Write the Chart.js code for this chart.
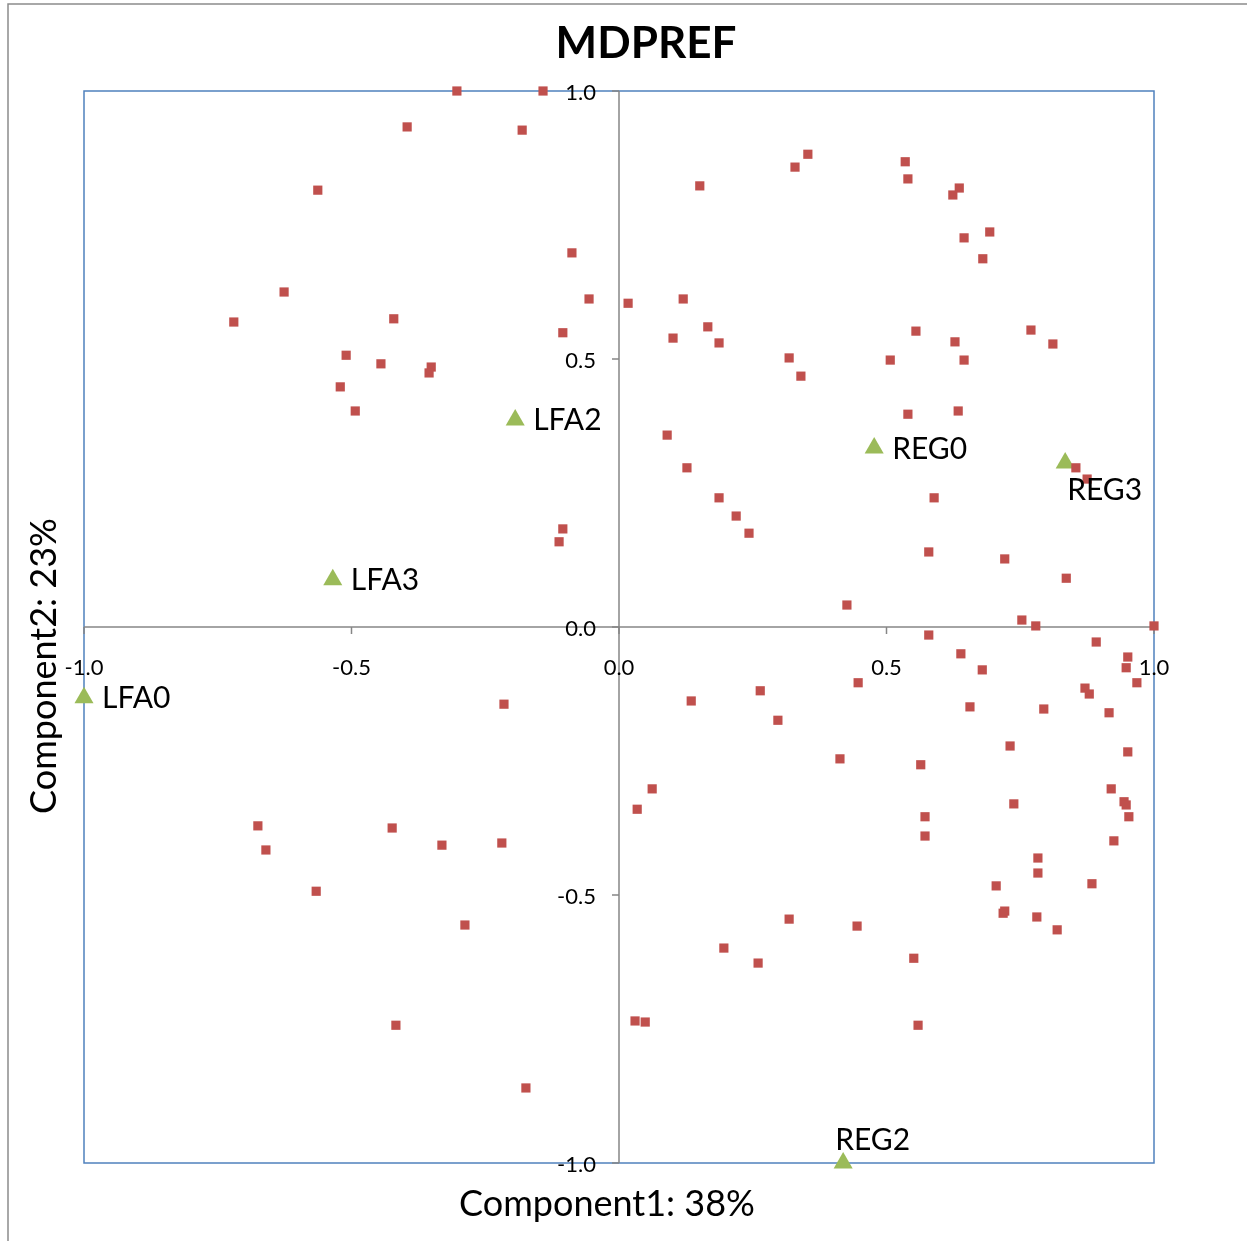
<!DOCTYPE html>
<html>
<head>
<meta charset="utf-8">
<title>MDPREF</title>
<script src="https://cdn.jsdelivr.net/npm/chart.js@4.4.1/dist/chart.umd.min.js"></script>
<style>
  html, body { margin: 0; padding: 0; background: #fff; }
  canvas { display: block; }
</style>
</head>
<body>
<canvas id="mdpref-chart" width="1247" height="1241"></canvas>
<script>
// Attributs (carrés rouges)
const attrX = [
  -0.303, -0.142, -0.396, -0.181, -0.563, -0.088, -0.626, -0.056, -0.720, -0.421,
  -0.105, -0.510, -0.445, -0.351, -0.355, -0.521, -0.493, -0.105, -0.112, 0.017,
  0.120, 0.151, 0.329, 0.353, 0.535, 0.540, 0.636, 0.624, 0.693, 0.645,
  0.680, 0.101, 0.166, 0.187, 0.318, 0.340, 0.555, 0.628, 0.645, 0.507,
  0.770, 0.811, 0.540, 0.634, 0.090, 0.127, 0.187, 0.219, 0.243, 0.589,
  0.579, 0.721, 0.836, 0.426, 0.854, 0.875, 0.753, 0.779, 1.000, -0.675,
  -0.660, -0.566, -0.424, -0.331, -0.219, -0.288, -0.417, -0.174, -0.215, 0.030,
  0.049, 0.062, 0.034, 0.135, 0.264, 0.297, 0.196, 0.260, 0.318, 0.413,
  0.447, 0.445, 0.551, 0.559, 0.564, 0.572, 0.572, 0.579, 0.639, 0.656,
  0.679, 0.705, 0.718, 0.721, 0.731, 0.738, 0.783, 0.783, 0.781, 0.794,
  0.819, 0.871, 0.879, 0.884, 0.892, 0.916, 0.920, 0.925, 0.944, 0.948,
  0.948, 0.951, 0.951, 0.953, 0.968
];
const attrY = [
  1.000, 1.000, 0.933, 0.927, 0.815, 0.698, 0.625, 0.612, 0.569, 0.575,
  0.549, 0.507, 0.491, 0.485, 0.474, 0.448, 0.403, 0.183, 0.159, 0.604,
  0.612, 0.823, 0.858, 0.882, 0.868, 0.836, 0.819, 0.806, 0.737, 0.726,
  0.687, 0.539, 0.560, 0.530, 0.502, 0.468, 0.552, 0.532, 0.498, 0.498,
  0.554, 0.528, 0.397, 0.403, 0.358, 0.297, 0.241, 0.207, 0.175, 0.241,
  0.140, 0.127, 0.091, 0.041, 0.297, 0.276, 0.013, 0.002, 0.002, -0.371,
  -0.416, -0.493, -0.375, -0.407, -0.403, -0.556, -0.743, -0.860, -0.144, -0.735,
  -0.737, -0.302, -0.340, -0.138, -0.119, -0.174, -0.599, -0.627, -0.545, -0.246,
  -0.104, -0.558, -0.618, -0.743, -0.257, -0.354, -0.390, -0.015, -0.050, -0.149,
  -0.080, -0.483, -0.534, -0.530, -0.222, -0.330, -0.431, -0.459, -0.541, -0.153,
  -0.565, -0.114, -0.125, -0.479, -0.028, -0.160, -0.302, -0.399, -0.326, -0.332,
  -0.076, -0.056, -0.233, -0.354, -0.104
];

// Groupes (triangles verts)
const groupNames = ['LFA0', 'LFA2', 'LFA3', 'REG0', 'REG3', 'REG2'];
const groupX = [-1.000, -0.194, -0.535, 0.477, 0.834, 0.419];
const groupY = [-0.132, 0.386, 0.088, 0.334, 0.306, -1.000];

// Graduations et textes
const xTicks = [-1.0, -0.5, 0.0, 0.5, 1.0];
const yTicks = [-1.0, -0.5, 0.0, 0.5, 1.0];
const chartTitle = 'MDPREF';
const xTitle = 'Component1: 38%';
const yTitle = 'Component2: 23%';

// Position des étiquettes (décalage en px par rapport au triangle)
const labelOffsets = {
  LFA0: [18, 1], LFA2: [18, 0], LFA3: [18, 0], REG0: [18, 1],
  REG3: [2, 27], REG2: [-8, -23]
};

const FONT = 'Lato, "Open Sans", sans-serif';

// Axes centrés, bordure, titres et étiquettes dessinés à la main
const quadrantAxes = {
  id: 'quadrantAxes',
  beforeDraw(chart) {
    const ctx = chart.ctx;
    ctx.save();
    ctx.strokeStyle = '#8c8c8c';
    ctx.lineWidth = 1.5;
    ctx.beginPath();
    ctx.moveTo(8, chart.height);
    ctx.lineTo(8, 4);
    ctx.lineTo(chart.width, 4);
    ctx.stroke();
    ctx.restore();
  },
  beforeDatasetsDraw(chart) {
    const { ctx, chartArea: a, scales: { x, y } } = chart;
    const x0 = x.getPixelForValue(0);
    const y0 = y.getPixelForValue(0);
    ctx.save();

    // titre
    ctx.fillStyle = '#000';
    ctx.font = 'bold 44px ' + FONT;
    ctx.textAlign = 'center';
    ctx.textBaseline = 'middle';
    ctx.fillText(chartTitle, (a.left + a.right) / 2 + 27, 44);

    // cadre de la zone de tracé
    ctx.strokeStyle = '#4F81BD';
    ctx.lineWidth = 1.5;
    ctx.strokeRect(a.left, a.top, a.right - a.left, a.bottom - a.top);

    // axes
    ctx.strokeStyle = '#868686';
    ctx.lineWidth = 1.5;
    ctx.beginPath();
    ctx.moveTo(a.left, y0); ctx.lineTo(a.right, y0);
    ctx.moveTo(x0, a.top); ctx.lineTo(x0, a.bottom);
    ctx.stroke();

    ctx.font = '22px ' + FONT;

    // graduations X
    ctx.textAlign = 'center';
    xTicks.forEach(v => {
      const px = x.getPixelForValue(v);
      ctx.beginPath();
      ctx.moveTo(px, y0); ctx.lineTo(px, y0 + 7);
      ctx.stroke();
      ctx.fillText(v.toFixed(1), px, y0 + 41);
    });

    // graduations Y
    ctx.textAlign = 'right';
    yTicks.forEach(v => {
      const py = y.getPixelForValue(v);
      ctx.beginPath();
      ctx.moveTo(x0 - 7, py); ctx.lineTo(x0, py);
      ctx.stroke();
      ctx.fillText(v.toFixed(1), x0 - 23, py + 2);
    });

    // titres des axes
    ctx.font = '36px ' + FONT;
    ctx.textAlign = 'center';
    ctx.fillText(xTitle, (a.left + a.right) / 2 - 12, a.bottom + 41);
    ctx.save();
    ctx.translate(44, (a.top + a.bottom) / 2 + 39);
    ctx.rotate(-Math.PI / 2);
    ctx.fillText(yTitle, 0, 0);
    ctx.restore();

    ctx.restore();
  },
  afterDatasetsDraw(chart) {
    const { ctx, scales: { x, y } } = chart;
    ctx.save();
    ctx.fillStyle = '#000';
    ctx.font = '30px ' + FONT;
    ctx.textAlign = 'left';
    ctx.textBaseline = 'middle';
    groupNames.forEach((name, i) => {
      const off = labelOffsets[name] || [18, 0];
      const px = x.getPixelForValue(groupX[i]);
      const py = y.getPixelForValue(groupY[i]);
      ctx.fillText(name, px + off[0], py + off[1]);
    });
    ctx.restore();
  }
};

const ctx = document.getElementById('mdpref-chart').getContext('2d');
const mdprefChart = new Chart(ctx, {
  type: 'scatter',
  data: {
    datasets: [{
      label: 'Attributs',
      data: attrX.map((v, i) => ({ x: v, y: attrY[i] })),
      pointStyle: 'rect',
      pointRadius: 6.5,
      backgroundColor: '#C0504D',
      borderColor: '#C0504D',
      borderWidth: 0,
      clip: false
    }, {
      label: 'Groupes',
      data: groupX.map((v, i) => ({ x: v, y: groupY[i] })),
      pointStyle: 'triangle',
      pointRadius: 11,
      backgroundColor: '#9BBB59',
      borderColor: '#9BBB59',
      borderWidth: 0,
      clip: false
    }]
  },
  options: {
    responsive: false,
    animation: false,
    events: [],
    layout: { padding: { left: 84, right: 93, top: 91, bottom: 78 } },
    plugins: {
      legend: { display: false },
      tooltip: { enabled: false },
      title: { display: false }
    },
    scales: {
      x: { type: 'linear', min: -1, max: 1, display: false },
      y: { type: 'linear', min: -1, max: 1, display: false }
    }
  },
  plugins: [quadrantAxes]
});
</script>
</body>
</html>
